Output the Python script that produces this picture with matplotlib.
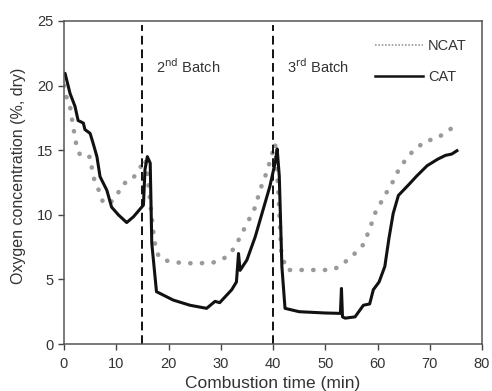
import matplotlib
matplotlib.use("Agg")
import matplotlib.pyplot as plt
from matplotlib.lines import Line2D

plt.rcParams['font.family'] = ['Liberation Sans', 'DejaVu Sans']

# CAT series
cat_t = [0, 0.2, 1.15, 2.1, 2.7, 3.7, 4.0, 5.0, 5.6, 6.3, 6.9, 8.2, 9.1, 10.4, 12.0, 13.3, 15.2,
         15.5, 15.95, 16.5, 16.8, 17.7, 20.9, 24.1, 27.3, 28.9, 29.8, 32.1, 33.0, 33.4, 33.7,
         35.0, 36.6, 39.4, 40.5, 40.8, 41.2, 41.7, 42.3, 45, 50, 52.9, 53.1, 53.3, 53.8, 55.7,
         57.3, 58.5, 59.2, 60.3, 61.4, 62.2, 63.0, 64.0, 65.9, 67.5, 69.5, 71.5, 73.0, 74.2, 75.2]
cat_v = [20.9, 20.95, 19.4, 18.4, 17.3, 17.1, 16.6, 16.3, 15.5, 14.5, 12.95, 11.9, 10.6, 10.0, 9.4, 9.85, 10.75,
         13.5, 14.5, 14.0, 7.8, 4.05, 3.4, 3.0, 2.76, 3.3, 3.2, 4.2, 4.8, 7.0, 5.7,
         6.5, 8.3, 12.2, 14.2, 15.1, 13.0, 6.0, 2.76, 2.5, 2.4, 2.37, 4.3, 2.1, 2.0, 2.1,
         3.0, 3.1, 4.2, 4.8, 6.0, 8.2, 10.1, 11.5, 12.3, 13.0, 13.8, 14.3, 14.6, 14.7, 14.96]

# NCAT series
ncat_t = [0, 0.5, 1.15, 1.5, 1.8, 2.1, 2.4, 3.1, 4.0, 5.0, 5.3, 5.6, 6.3, 6.9, 7.5, 8.8, 10.1, 11.3,
          13.0, 14.9, 15.5, 16.0, 16.5, 17.0, 17.5, 18.2, 20, 23, 26, 28.5, 30.5, 31.8, 33.0, 33.7,
          35.0, 36.6, 37.5, 38.8, 40.4, 41.0, 41.6, 42.6, 46, 51.2, 52.8, 55.4, 57.3, 58.6, 59.5,
          61.4, 63.0, 64.3, 66.5, 69.1, 71.3, 74.2]
ncat_v = [20.0, 19.1, 18.4, 17.5, 16.7, 16.05, 15.3, 14.6, 14.4, 14.5, 13.7, 12.95, 12.2, 11.7, 10.9, 10.9, 11.5, 12.4,
          12.7, 13.85, 14.3, 13.0, 11.0, 9.0, 7.5, 6.7, 6.4, 6.25, 6.25, 6.3, 6.6, 7.0, 7.7, 8.3,
          9.3, 10.6, 11.9, 13.3, 15.5, 12.0, 7.0, 5.73, 5.73, 5.73, 6.0, 6.9, 7.7, 9.0, 10.1,
          11.5, 12.6, 13.7, 14.8, 15.7, 15.9, 16.7]

batch_x = [15, 40]
batch_labels = ['2$^{\\mathrm{nd}}$ Batch', '3$^{\\mathrm{rd}}$ Batch']
xticks = [0, 10, 20, 30, 40, 50, 60, 70, 80]
yticks = [0, 5, 10, 15, 20, 25]

fig = plt.figure(figsize=(4.92, 3.91), dpi=100)
ax = fig.add_axes([64/492, 1 - 344/391, (482-64)/492, (344-21)/391])

tc = '#333333'
ax.plot(ncat_t, ncat_v, color='#9a9a9a', lw=3.3, linestyle=(0, (0.05, 2.5)),
        dash_capstyle='round', solid_capstyle='round')
ax.plot(cat_t, cat_v, color='#111111', lw=2.2, solid_joinstyle='round')

for bx, lab in zip(batch_x, batch_labels):
    ax.plot([bx, bx], [0, 24.7], color='#111111', lw=1.4, linestyle=(0, (4.5, 2.5)))
    ax.text(bx + 2.7, 21.5, lab, fontsize=10.5, color=tc, va='center', ha='left')

handles = [Line2D([], [], color='#9a9a9a', lw=1.2, linestyle=(0, (1, 1))),
           Line2D([], [], color='#111111', lw=1.8)]
ax.legend(handles, ['NCAT', 'CAT'], loc='upper right', frameon=False, fontsize=10.5,
          handlelength=3.3, handletextpad=0.35, labelspacing=1.15, borderaxespad=0,
          borderpad=0, labelcolor=tc, bbox_to_anchor=(0.964, 0.943))

ax.set_xlim(0, 80)
ax.set_ylim(0, 25)
ax.set_xticks(xticks)
ax.set_yticks(yticks)
ax.tick_params(direction='out', length=4, width=1, colors='#444444', labelcolor=tc, labelsize=10.5)
ax.tick_params(axis='x', pad=5)
for s in ax.spines.values():
    s.set_color('#555555')
    s.set_linewidth(1.1)
ax.set_xlabel('Combustion time (min)', fontsize=12.5, color=tc, labelpad=4)
ax.set_ylabel('Oxygen concentration (%, dry)', fontsize=11.5, color=tc)
ax.yaxis.set_label_coords(-0.092, 0.52)

fig.savefig('out.png', dpi=100)
